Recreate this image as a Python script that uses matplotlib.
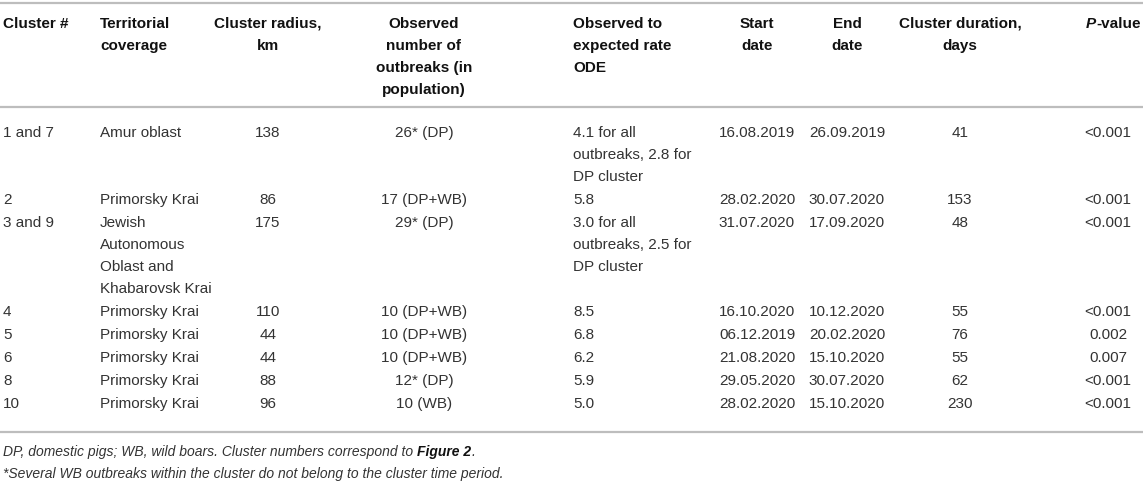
import matplotlib
matplotlib.use('Agg')
import matplotlib.pyplot as plt
from matplotlib.lines import Line2D

plt.rcParams['font.family'] = ['Liberation Sans', 'DejaVu Sans']

# table content
headers = [
    "Cluster #",
    "Territorial\ncoverage",
    "Cluster radius,\nkm",
    "Observed\nnumber of\noutbreaks (in\npopulation)",
    "Observed to\nexpected rate\nODE",
    "Start\ndate",
    "End\ndate",
    "Cluster duration,\ndays",
    "P-value",
]
clusters = ["1 and 7", "2", "3 and 9", "4", "5", "6", "8", "10"]
territory = ["Amur oblast", "Primorsky Krai",
             "Jewish\nAutonomous\nOblast and\nKhabarovsk Krai",
             "Primorsky Krai", "Primorsky Krai", "Primorsky Krai",
             "Primorsky Krai", "Primorsky Krai"]
radius = [138, 86, 175, 110, 44, 44, 88, 96]
observed = ["26* (DP)", "17 (DP+WB)", "29* (DP)", "10 (DP+WB)",
            "10 (DP+WB)", "10 (DP+WB)", "12* (DP)", "10 (WB)"]
ode = ["4.1 for all\noutbreaks, 2.8 for\nDP cluster", "5.8",
       "3.0 for all\noutbreaks, 2.5 for\nDP cluster",
       "8.5", "6.8", "6.2", "5.9", "5.0"]
start = ["16.08.2019", "28.02.2020", "31.07.2020", "16.10.2020",
         "06.12.2019", "21.08.2020", "29.05.2020", "28.02.2020"]
end = ["26.09.2019", "30.07.2020", "17.09.2020", "10.12.2020",
       "20.02.2020", "15.10.2020", "30.07.2020", "15.10.2020"]
duration = [41, 153, 48, 55, 76, 55, 62, 230]
pvalue = ["<0.001", "<0.001", "<0.001", "<0.001", "0.002", "0.007",
          "<0.001", "<0.001"]
note1 = "DP, domestic pigs; WB, wild boars. Cluster numbers correspond to "
note1_bold = "Figure 2"
note2 = "*Several WB outbreaks within the cluster do not belong to the cluster time period."

W, H = 1143, 490
fig = plt.figure(figsize=(W / 100, H / 100), dpi=100)
fig.patch.set_facecolor('white')
# invisible axes in pixel coords, y going down
ax = fig.add_axes([0, 0, 1, 1])
ax.set_xlim(0, W)
ax.set_ylim(H, 0)
ax.axis('off')

# column anchors (pixels) and alignment
col_x = [3, 100, 268, 424, 573, 757, 847, 960, 1108]
col_ha = ['left', 'left', 'center', 'center', 'left', 'center', 'center', 'center', 'center']
hdr_x = [3, 100, 268, 424, 573, 757, 847, 960, 1086]
hdr_ha = ['left', 'left', 'center', 'center', 'left', 'center', 'center', 'center', 'left']

line_h = 22
fs = 11
fs_note = 10
hdr_color = '#111111'
body_color = '#333333'
rule_color = '#bdbdbd'

for yr in [3, 107, 432]:
    ax.add_line(Line2D([0, W], [yr, yr], color=rule_color, lw=1.6))

# header
for j, h in enumerate(headers):
    if j == 8:
        continue
    for k, ln in enumerate(h.split("\n")):
        ax.text(hdr_x[j], 28 + k * line_h, ln, ha=hdr_ha[j], va='baseline',
                fontsize=fs, fontweight='bold', color=hdr_color)
tp = ax.text(hdr_x[8], 28, "P", ha='left', va='baseline', fontsize=fs,
             fontweight='bold', fontstyle='italic', color=hdr_color)
ax.annotate("-value", xy=(1, 0), xycoords=tp, ha='left', va='bottom',
            fontsize=fs, fontweight='bold', color=hdr_color)

# body rows
columns = [clusters, territory, [str(r) for r in radius], observed, ode,
           start, end, [str(d) for d in duration], pvalue]
y = 137
for i in range(len(clusters)):
    n_lines = 1
    for j, col in enumerate(columns):
        lines = col[i].split("\n")
        n_lines = max(n_lines, len(lines))
        for k, ln in enumerate(lines):
            ax.text(col_x[j], y + k * line_h, ln, ha=col_ha[j],
                    va='baseline', fontsize=fs, color=body_color)
    y += (n_lines - 1) * line_h + 23

# footnotes
t1 = ax.text(3, 456, note1, ha='left', va='baseline', fontsize=fs_note,
             fontstyle='italic', color=body_color)
a1 = ax.annotate(note1_bold, xy=(1, 0), xycoords=t1, ha='left', va='bottom',
                 fontsize=fs_note, fontstyle='italic', fontweight='bold',
                 color=hdr_color)
ax.annotate(".", xy=(1, 0), xycoords=a1, ha='left', va='bottom',
            fontsize=fs_note, fontstyle='italic', color=body_color)
ax.text(3, 478, note2, ha='left', va='baseline', fontsize=fs_note,
        fontstyle='italic', color=body_color)

fig.savefig('out.png', dpi=100, facecolor='white')
